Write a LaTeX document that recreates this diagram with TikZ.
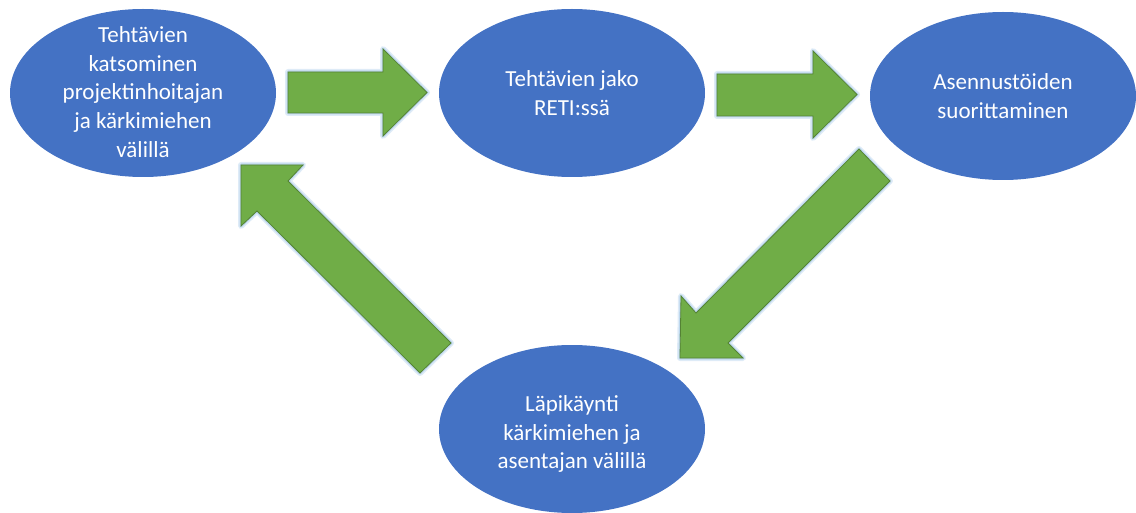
\documentclass[tikz,border=0pt]{standalone}
\usepackage{fontspec}
\setmainfont{Carlito}
\usetikzlibrary{shapes.geometric}
\definecolor{ellblue}{HTML}{4472C4}
\definecolor{arrgreen}{HTML}{70AD47}
\definecolor{arredge}{HTML}{548235}
\definecolor{glowA}{HTML}{DEEBF7}
\definecolor{glowB}{HTML}{BDD7EE}
\tikzset{
  blob/.style={ellipse, fill=ellblue, draw=none, minimum width=266pt, minimum height=168pt, inner sep=0pt},
  txt/.style={text=white, align=center, font=\fontsize{23}{28.7}\selectfont, inner sep=0pt},
  glow1/.style={draw=glowA, line width=6pt, line join=round},
  glow2/.style={draw=glowB, line width=3pt, line join=round},
  blockarrow/.style={fill=arrgreen, draw=arredge, line width=0.8pt, line join=miter}
}
\newcommand{\blockarr}[1]{%
  \draw[glow1] #1;
  \draw[glow2] #1;
  \filldraw[blockarrow] #1;
}
\begin{document}
\begin{tikzpicture}[x=1pt,y=-1pt]
\useasboundingbox (0,0) rectangle (1136,513);
% ellipses
\node[blob] (e1) at (143,93) {};
\node[blob] (e2) at (572,93) {};
\node[blob] (e3) at (1003,96) {};
\node[blob] (e4) at (572,429) {};
\node[txt] (t1) at (143,92) {Tehtävien\\katsominen\\projektinhoitajan\\ja kärkimiehen\\välillä};
\node[txt] (t2) at (572,93) {Tehtävien jako\\RETI:ssä};
\node[txt] (t3) at (1003,96) {Asennustöiden\\suorittaminen};
\node[txt] (t4) at (572,434) {Läpikäynti\\kärkimiehen ja\\asentajan välillä};
% arrows
\blockarr{(288,72) -- (383,72) -- (383,49) -- (427,92.5) -- (383,136) -- (383,113) -- (288,113) -- cycle}
\blockarr{(717,74) -- (813,74) -- (813,51) -- (857,94.5) -- (813,138) -- (813,116) -- (717,116) -- cycle}
\blockarr{(859,149) -- (890,181) -- (728,343) -- (743,358) -- (680,358) -- (681,296) -- (696,313) -- cycle}
\blockarr{(241,165) -- (303,165) -- (288,181) -- (451,343) -- (420,373) -- (257,211) -- (241,226) -- cycle}
\end{tikzpicture}
\end{document}
